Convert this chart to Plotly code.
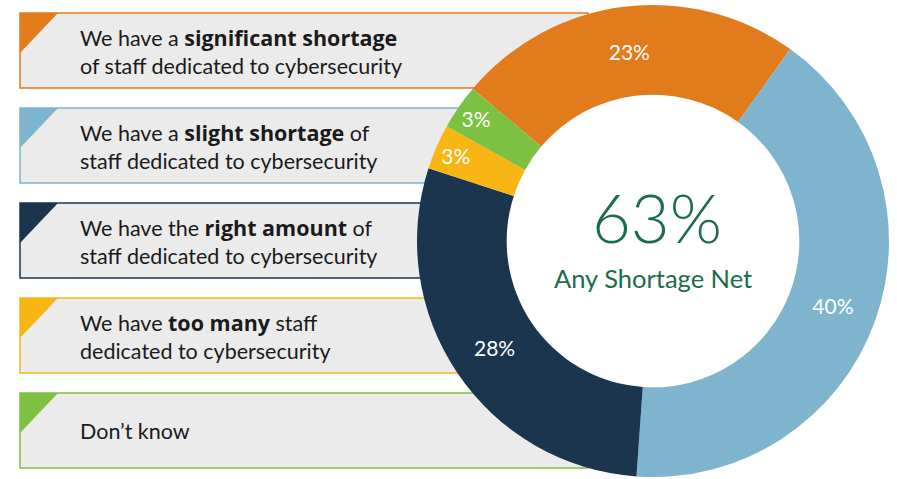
import plotly.graph_objects as go

B = '<span style="font-family:\'Open Sans\';font-weight:700">'
E = '</span>'
categories = [
    f"We have a {B}significant shortage{E}<br>of staff dedicated to cybersecurity",
    f"We have a {B}slight shortage{E} of<br>staff dedicated to cybersecurity",
    f"We have the {B}right amount{E} of<br>staff dedicated to cybersecurity",
    f"We have {B}too many{E} staff<br>dedicated to cybersecurity",
    "Don’t know",
]
plain_labels = [
    "We have a significant shortage of staff dedicated to cybersecurity",
    "We have a slight shortage of staff dedicated to cybersecurity",
    "We have the right amount of staff dedicated to cybersecurity",
    "We have too many staff dedicated to cybersecurity",
    "Don’t know",
]
values = [23, 40, 28, 3, 3]
colors = ["#E27B1C", "#7FB4CE", "#1C354F", "#F7B614", "#7DC143"]
center_value = "63%"
center_label = "Any Shortage Net"

W, H = 897, 479
FONT = "Lato"

fig = go.Figure()
fig.add_trace(go.Pie(
    values=values,
    labels=plain_labels,
    marker=dict(colors=colors, line=dict(width=0)),
    sort=False,
    direction="clockwise",
    rotation=-49.8,
    hole=0.62,
    texttemplate=[f"{v}%" for v in values],
    textposition="inside",
    insidetextorientation="horizontal",
    textfont=dict(family="Lato, sans-serif", size=21, color="white", weight="normal"),
    insidetextfont=dict(family="Lato, sans-serif", size=21, color="white", weight="normal"),
    domain=dict(x=[417 / W, 889 / W], y=[1 - 477 / H, 1 - 5 / H]),
    showlegend=False,
    hoverinfo="label+percent",
))

shapes = []
annotations = []
box_top0, box_h, box_step = 13, 75, 95
box_right = [588, 512, 498, 512, 588]
for i, (cat, col) in enumerate(zip(categories, colors)):
    top = box_top0 + i * box_step
    bot = top + box_h
    shapes.append(dict(
        type="rect", xref="paper", yref="paper", layer="below",
        x0=20 / W, x1=box_right[i] / W, y0=1 - bot / H, y1=1 - top / H,
        fillcolor="#EBEBEB", line=dict(color=col, width=1.5),
    ))
    shapes.append(dict(
        type="path", xref="paper", yref="paper", layer="below",
        path=f"M {20/W},{1-top/H} L {58/W},{1-top/H} L {20/W},{1-(top+40)/H} Z",
        fillcolor=col, line=dict(width=0),
    ))
    annotations.append(dict(
        x=78 / W, y=1 - (top + box_h / 2) / H, xref="paper", yref="paper",
        xanchor="left", yanchor="middle", align="left", showarrow=False,
        text=cat, font=dict(family=FONT, size=21.5, color="#1A1A1A"),
    ))

annotations.append(dict(
    x=657 / W, y=1 - 217 / H, xref="paper", yref="paper",
    xanchor="center", yanchor="middle",
    showarrow=False, text=center_value,
    font=dict(family=FONT, size=67, color="#1D6B4E", weight=300),
))
annotations.append(dict(
    x=653 / W, y=1 - 278 / H, xref="paper", yref="paper",
    xanchor="center", yanchor="middle",
    showarrow=False, text=center_label,
    font=dict(family=FONT, size=25.5, color="#1D6B4E"),
))

fig.update_layout(
    width=W, height=H,
    margin=dict(l=0, r=0, t=0, b=0),
    paper_bgcolor="white", plot_bgcolor="white",
    shapes=shapes, annotations=annotations,
    uniformtext=dict(minsize=20, mode="show"),
)
fig.write_html("out.html", config={"displayModeBar": False},
               post_script="document.body.style.margin='0';")
